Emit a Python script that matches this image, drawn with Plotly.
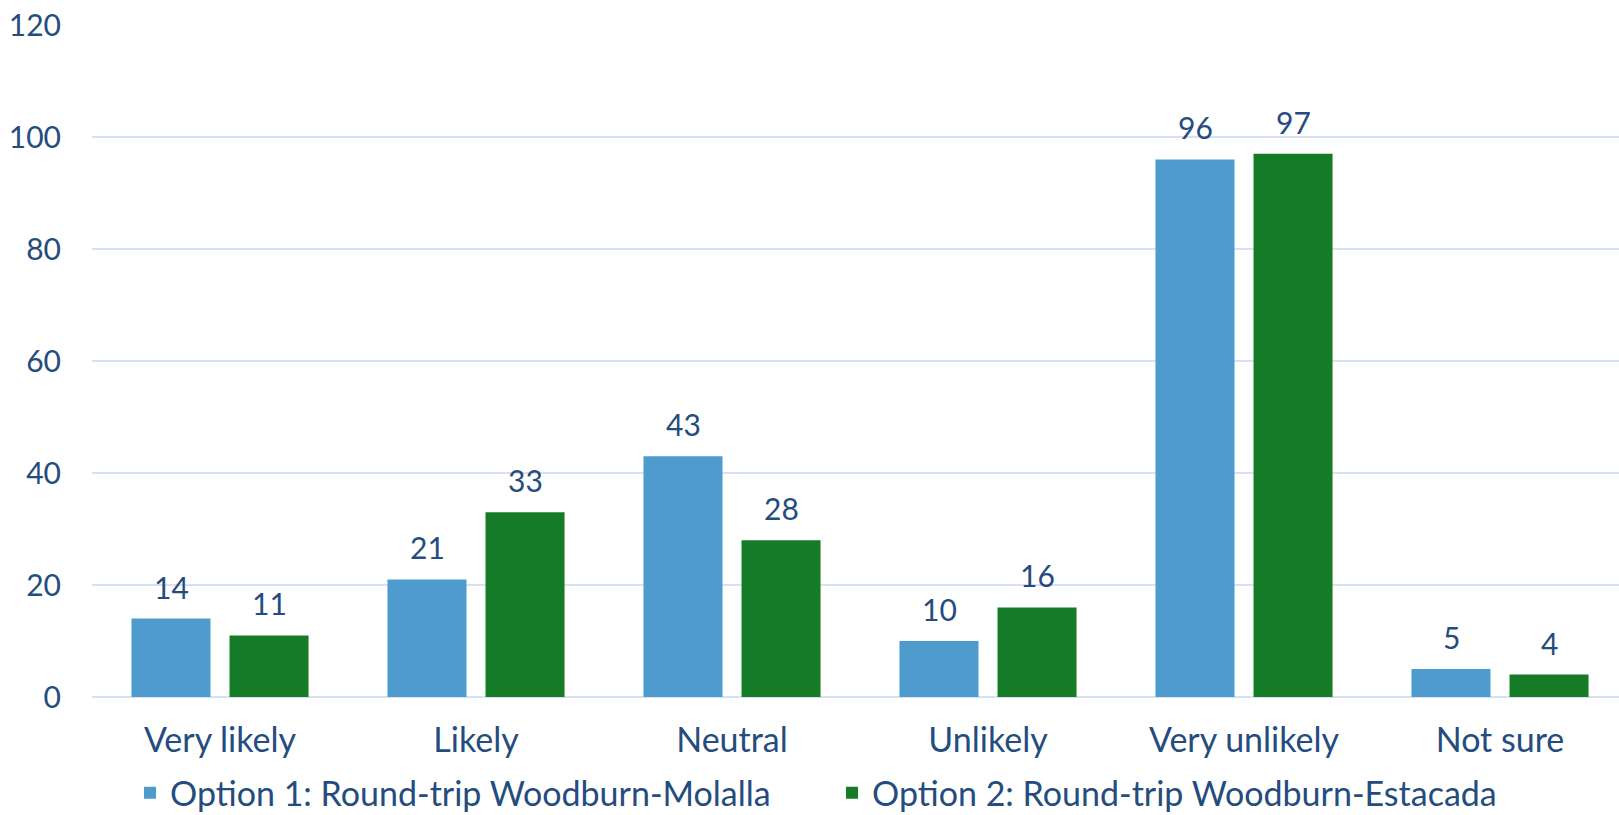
import plotly.graph_objects as go

categories = ["Very likely", "Likely", "Neutral", "Unlikely", "Very unlikely", "Not sure"]
option1 = [14, 21, 43, 10, 96, 5]
option2 = [11, 33, 28, 16, 97, 4]
series_names = ["Option 1: Round-trip Woodburn-Molalla", "Option 2: Round-trip Woodburn-Estacada"]
y_ticks = [0, 20, 40, 60, 80, 100, 120]

TEXT = "#254C7E"
BLUE = "#4F9BCD"
GREEN = "#167B27"
GRID = "#D6E2F1"
FONT = "Lato"
FS_TEXT = 34
FS_NUM = 30

fig = go.Figure()
fig.add_trace(go.Bar(x=categories, y=option1, name=series_names[0], marker=dict(color=BLUE, line=dict(width=0))))
fig.add_trace(go.Bar(x=categories, y=option2, name=series_names[1], marker=dict(color=GREEN, line=dict(width=0))))

annotations = []
for vals, shift in ((option1, -49), (option2, 49)):
    for c, v in zip(categories, vals):
        annotations.append(dict(x=c, y=v, xref="x", yref="y", text=str(v), showarrow=False,
                                xanchor="center", yanchor="bottom", xshift=shift, yshift=12,
                                font=dict(family=FONT, size=FS_NUM, color=TEXT)))

fig.update_layout(
    width=1619, height=815,
    margin=dict(l=92, r=0, t=25, b=118, autoexpand=False),
    paper_bgcolor="white", plot_bgcolor="white",
    barmode="group", bargap=0.234, bargroupgap=0.194,
    font=dict(family=FONT, size=FS_TEXT, color=TEXT),
    xaxis=dict(range=[-0.5, 5.4648], showgrid=False, showline=False, ticks="",
               tickfont=dict(family=FONT, size=FS_TEXT, color=TEXT), ticklabelstandoff=20),
    yaxis=dict(range=[0, 120], tickvals=y_ticks, showgrid=True, gridcolor=GRID, gridwidth=1.5,
               zeroline=True, zerolinecolor=GRID, zerolinewidth=1.5, showline=False, ticks="",
               tickfont=dict(family=FONT, size=FS_NUM, color=TEXT), ticklabelstandoff=30),
    legend=dict(orientation="h", x=0.0249, xanchor="left", y=-0.1, yanchor="top",
                font=dict(family=FONT, size=FS_TEXT, color=TEXT), entrywidth=657, entrywidthmode="pixels"),
    annotations=annotations,
)

fig.write_html("out.html")
